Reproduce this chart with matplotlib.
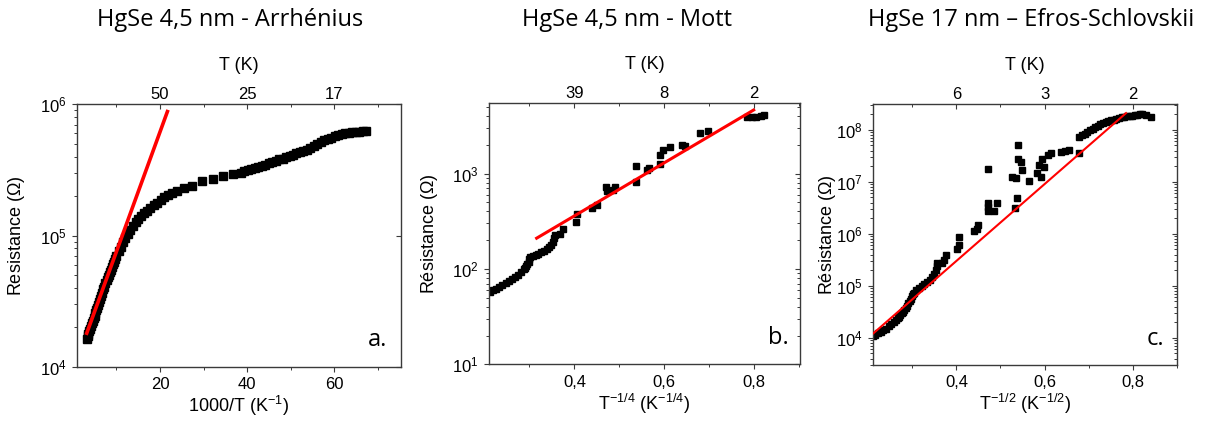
import matplotlib
matplotlib.use("Agg")
import matplotlib.pyplot as plt
from matplotlib.ticker import LogLocator, NullFormatter, FixedLocator, FuncFormatter, LogFormatterSciNotation

plt.rcParams["font.family"] = "Liberation Sans"
plt.rcParams["mathtext.fontset"] = "custom"
plt.rcParams["mathtext.rm"] = "Liberation Sans"
plt.rcParams["mathtext.it"] = "Liberation Sans:italic"
plt.rcParams["mathtext.bf"] = "Liberation Sans:bold"

# ---- panel a : Arrhenius, R vs 1000/T ----
inv_t_a = [3.2, 3.4, 3.6, 3.8, 4.0, 4.2, 4.4, 4.6, 4.8, 5.0, 5.2, 5.4, 5.6, 5.8, 6.0,
           6.25, 6.5, 6.75, 7.0, 7.25, 7.5, 7.75, 8.0, 8.25, 8.5, 8.75, 9.0, 9.25, 9.5,
           9.75, 10.0, 10.5, 11.0, 11.5, 12.0, 12.6, 13.2, 13.8, 14.4, 15.0, 15.7, 16.4,
           17.1, 17.8, 18.6, 19.4, 20.2, 21.0, 21.9, 22.8, 23.8,
           25.4, 27.3, 29.6, 32.2, 34.5, 36.8,
           38.5, 39.3, 40.1, 40.9, 41.7, 42.5, 43.3, 44.1, 44.9, 45.7, 46.5, 47.3,
           48.1, 48.9, 49.7, 50.5, 51.3, 52.1, 52.9, 53.7, 54.5, 55.3, 56.1, 56.9,
           57.7, 58.5, 59.3, 60.1, 60.9, 61.7, 62.5, 63.3, 64.1, 64.9, 65.7, 66.5, 67.2]
res_a = [1.62e4, 1.70e4, 1.78e4, 1.86e4, 1.95e4, 2.04e4, 2.14e4, 2.24e4, 2.34e4, 2.45e4,
         2.57e4, 2.69e4, 2.82e4, 2.95e4, 3.09e4, 3.27e4, 3.47e4, 3.67e4, 3.89e4, 4.07e4,
         4.32e4, 4.57e4, 4.79e4, 5.01e4, 5.25e4, 5.50e4, 5.75e4, 6.03e4, 6.31e4, 6.61e4,
         6.92e4, 7.59e4, 8.22e4, 8.91e4, 9.55e4,
         1.035e5, 1.11e5, 1.19e5, 1.26e5, 1.33e5, 1.41e5, 1.48e5, 1.55e5, 1.62e5, 1.70e5,
         1.78e5, 1.86e5, 1.95e5, 2.04e5, 2.11e5, 2.19e5,
         2.29e5, 2.40e5, 2.60e5, 2.69e5, 2.82e5, 2.95e5,
         3.02e5, 3.09e5, 3.16e5, 3.24e5, 3.27e5, 3.35e5, 3.39e5, 3.47e5, 3.55e5, 3.63e5,
         3.72e5, 3.80e5, 3.85e5, 3.94e5, 4.03e5, 4.12e5, 4.22e5, 4.32e5, 4.42e5, 4.52e5,
         4.62e5, 4.79e5, 4.95e5, 5.13e5, 5.31e5, 5.43e5, 5.56e5, 5.69e5, 5.82e5, 5.92e5,
         6.00e5, 6.07e5, 6.12e5, 6.17e5, 6.19e5, 6.21e5, 6.22e5]
fit_x_a = [3.2, 21.7]
fit_y_a = [1.8e4, 8.8e5]

# ---- panel b : Mott, R vs T^-1/4 ----
x_b = [0.212, 0.219, 0.226, 0.233, 0.240, 0.247, 0.254, 0.261, 0.268, 0.275, 0.282,
       0.288, 0.2905, 0.293, 0.2955, 0.298, 0.300, 0.302, 0.308, 0.314, 0.320, 0.326,
       0.332, 0.338, 0.344, 0.349, 0.353, 0.355, 0.356,
       0.368, 0.375, 0.404, 0.406, 0.439, 0.450, 0.471, 0.473, 0.487, 0.490,
       0.537, 0.537, 0.561, 0.566, 0.591, 0.591, 0.598, 0.613, 0.639, 0.647,
       0.680, 0.698, 0.785, 0.795, 0.805, 0.815, 0.821]
res_b = [56.8, 59.4, 62.2, 65.2, 68.2, 71.6, 75.0, 78.5, 82.6, 87.1, 92.3,
         98.9, 103, 107, 112, 119, 126, 132, 136, 140, 145, 150,
         155, 162, 170, 178, 191, 209, 229,
         234, 263, 310, 380, 438, 464, 723, 650, 667, 720,
         1195, 816, 1080, 1130, 1250, 1560, 1760, 1880, 1980, 1950,
         2640, 2810, 3950, 3920, 3950, 4000, 4100]
fit_x_b = [0.316, 0.799]
fit_y_b = [210, 4640]

# ---- panel c : Efros-Shklovskii, R vs T^-1/2 ----
x_c = [0.210, 0.216, 0.222, 0.228, 0.234, 0.240, 0.246, 0.252, 0.258, 0.264, 0.267,
       0.270, 0.273, 0.276, 0.279, 0.282, 0.285, 0.288, 0.291, 0.294, 0.2965, 0.299,
       0.301, 0.303, 0.309, 0.315, 0.321, 0.327, 0.333,
       0.339, 0.345, 0.350, 0.354, 0.356, 0.357,
       0.368, 0.372, 0.377, 0.402, 0.406, 0.405, 0.441, 0.447, 0.450,
       0.471, 0.471, 0.471, 0.472, 0.485, 0.493, 0.527, 0.533, 0.537, 0.535,
       0.539, 0.539, 0.546, 0.549, 0.564, 0.584, 0.592, 0.588, 0.599, 0.595,
       0.607, 0.615, 0.637, 0.647, 0.656, 0.679,
       0.679, 0.685, 0.691, 0.697, 0.703, 0.709, 0.715, 0.721, 0.727, 0.733,
       0.739, 0.745, 0.751, 0.757, 0.763, 0.769, 0.775, 0.781, 0.787, 0.793,
       0.799, 0.805, 0.811, 0.817, 0.821, 0.830, 0.842]
res_c = [1.07e4, 1.15e4, 1.23e4, 1.32e4, 1.41e4, 1.51e4, 1.66e4, 1.82e4, 2.00e4, 2.24e4,
         2.40e4, 2.57e4, 2.75e4, 2.95e4, 3.20e4, 3.47e4, 3.80e4, 4.17e4, 4.62e4, 5.13e4,
         5.69e4, 6.31e4, 6.84e4, 7.41e4, 8.13e4, 8.91e4, 9.77e4, 1.07e5, 1.17e5,
         1.29e5, 1.45e5, 1.66e5, 2.00e5, 2.40e5, 2.69e5,
         2.75e5, 3.16e5, 3.89e5, 5.0e5, 6.0e5, 8.7e5, 1.15e6, 1.26e6, 1.48e6,
         2.69e6, 3.3e6, 4.0e6, 1.74e7, 2.69e6, 4.0e6, 1.23e7, 3.1e6, 4.8e6, 1.17e7,
         2.8e7, 5.1e7, 2.45e7, 1.7e7, 1.05e7, 1.48e7, 1.26e7, 2.14e7, 1.95e7, 2.8e7,
         3.3e7, 3.6e7, 3.8e7, 4.0e7, 4.1e7, 3.55e7,
         7.4e7, 7.9e7, 8.5e7, 9.1e7, 9.8e7, 1.05e8, 1.12e8, 1.20e8, 1.29e8, 1.35e8,
         1.41e8, 1.48e8, 1.53e8, 1.58e8, 1.64e8, 1.70e8, 1.74e8, 1.78e8, 1.82e8, 1.84e8,
         1.86e8, 1.91e8, 1.95e8, 2.0e8, 2.04e8, 1.95e8, 1.76e8]
fit_x_c = [0.209, 0.785]
fit_y_c = [1.17e4, 2.1e8]

titles = ["HgSe 4,5 nm - Arrhénius", "HgSe 4,5 nm - Mott", "HgSe 17 nm \u2013 Efros-Schlovskii"]
top_labels_a = ["50", "25", "17"]
top_labels_b = ["39", "8", "2"]
top_labels_c = ["6", "3", "2"]

W, H = 1206, 423
fig = plt.figure(figsize=(W / 100, H / 100), dpi=100)


def box(l, r, t, b):
    return [l / W, 1 - b / H, (r - l) / W, (b - t) / H]


spine_col = "#3a3a3a"
comma = FuncFormatter(lambda v, p: f"{v:.1f}".replace(".", ","))


def make_panel(rect, x, y, fx, fy, xlim, ylim, xmaj, xmin, top_lbls, xlabel, ylabel,
               letter, fit_lw, ms, xfmt, ylab_x, right_minor=True):
    ax = fig.add_axes(rect)
    ax.set_yscale("log")
    ax.plot(x, y, "s", color="black", ms=ms, mec="black", zorder=2)
    ax.plot(fx, fy, "-", color="#ff0000", lw=fit_lw, zorder=3)
    ax.set_xlim(xlim)
    ax.set_ylim(ylim)
    ax.xaxis.set_major_locator(FixedLocator(xmaj))
    ax.xaxis.set_minor_locator(FixedLocator(xmin))
    if xfmt is not None:
        ax.xaxis.set_major_formatter(xfmt)
    ax.yaxis.set_major_locator(LogLocator(base=10, numticks=20))
    ax.yaxis.set_minor_locator(LogLocator(base=10, subs=range(2, 10), numticks=20))
    ax.yaxis.set_major_formatter(LogFormatterSciNotation())
    ax.yaxis.set_minor_formatter(NullFormatter())
    ax.tick_params(which="both", direction="out", top=False, right=False,
                   color=spine_col, labelsize=12, pad=4)
    ax.tick_params(which="major", length=3.5, width=0.8)
    ax.tick_params(which="minor", length=2.2, width=0.7)
    for s in ax.spines.values():
        s.set_color(spine_col)
        s.set_linewidth(1.0)
    ax.set_xlabel(xlabel, fontsize=13)
    ax.xaxis.set_label_coords(0.5, -0.105)
    ax.set_ylabel(ylabel, fontsize=13)
    ax.yaxis.set_label_coords(ylab_x, 0.5)
    ax.text(0.93, 0.10, letter, transform=ax.transAxes, ha="center", va="center",
            fontsize=17, family="Open Sans")

    tw = ax.twiny()
    tw.set_xlim(xlim)
    tw.xaxis.set_major_locator(FixedLocator(xmaj))
    tw.xaxis.set_minor_locator(FixedLocator(xmin))
    tw.set_xticklabels(top_lbls)
    tw.tick_params(axis="x", which="both", direction="in", color=spine_col,
                   labelsize=12, pad=2)
    tw.tick_params(axis="x", which="major", length=3.5, width=0.8)
    tw.tick_params(axis="x", which="minor", length=2.2, width=0.7)
    tw.yaxis.set_visible(True)
    tw.tick_params(axis="y", which="both", left=False, right=True, labelleft=False,
                   labelright=False, direction="in", color=spine_col)
    tw.tick_params(axis="y", which="major", length=3.5, width=0.8)
    tw.tick_params(axis="y", which="minor", length=2.2 if right_minor else 0, width=0.7)
    for s in tw.spines.values():
        s.set_visible(False)
    tw.set_xlabel("T (K)", fontsize=13)
    tw.xaxis.set_label_coords(0.5, 1.13)
    return ax


make_panel(box(76.7, 400.7, 104.3, 366.7), inv_t_a, res_a, fit_x_a, fit_y_a,
           (0.9, 75.2), (1e4, 1e6), [20, 40, 60], [10, 30, 50, 70], top_labels_a,
           r"1000/T (K$^{-1}$)", r"Resistance ($\Omega$)", "a.", 2.6, 5.4, None, -0.154,
           right_minor=False)
make_panel(box(489, 800, 103.3, 364.3), x_b, res_b, fit_x_b, fit_y_b,
           (0.21, 0.902), (10, 5.45e3), [0.4, 0.6, 0.8], [0.3, 0.5, 0.7, 0.9], top_labels_b,
           r"T$^{-1/4}$ (K$^{-1/4}$)", r"Résistance ($\Omega$)", "b.", 2.2, 4.6, comma, -0.158)
make_panel(box(872.7, 1176.7, 104.3, 365), x_c, res_c, fit_x_c, fit_y_c,
           (0.21, 0.9), (3e3, 3.1e8), [0.4, 0.6, 0.8], [0.3, 0.5, 0.7, 0.9], top_labels_c,
           r"T$^{-1/2}$ (K$^{-1/2}$)", r"Résistance ($\Omega$)", "c.", 1.5, 4.6, comma, -0.114)

for cx, t in zip([230, 627, 1031], titles):
    fig.text(cx / W, 1 - 20 / H, t, ha="center", va="center", fontsize=17, family="Open Sans")

fig.savefig("out.png", dpi=100)
